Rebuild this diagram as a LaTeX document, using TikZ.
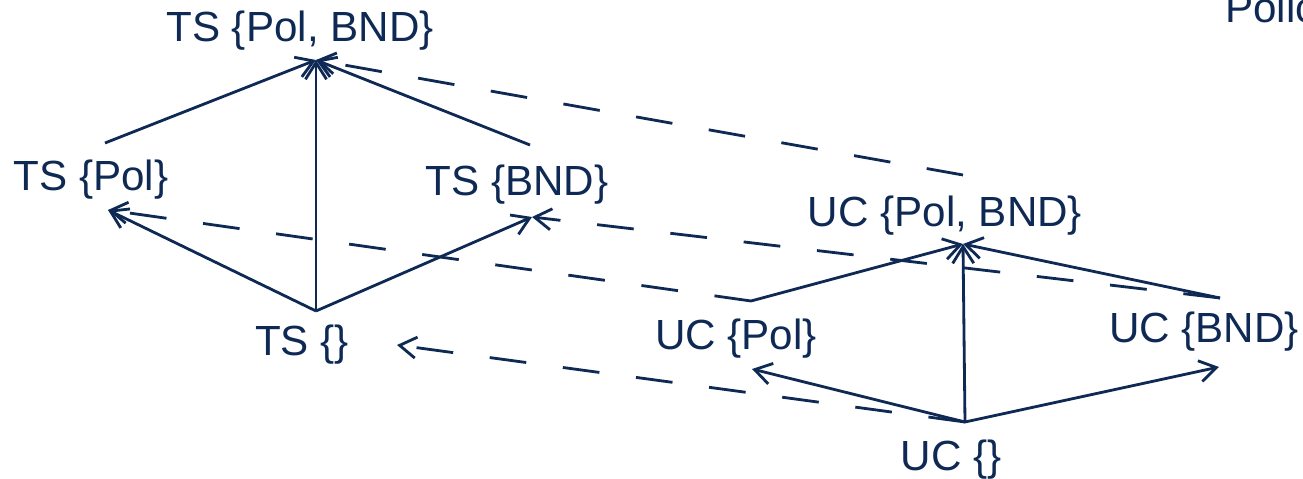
\documentclass[tikz,border=0pt]{standalone}
\usepackage{fontspec}
\setmainfont{Liberation Sans}
\usepackage{tikz}
\usetikzlibrary{arrows.meta}
\definecolor{latnavy}{RGB}{14,41,84}

\begin{document}
\begin{tikzpicture}[
    x=0.02cm, y=-0.02cm,
    lbl/.style={anchor=base, inner sep=0pt, text=latnavy, font=\fontsize{24}{28}\selectfont},
    arrow/.style={-{Straight Barb[length=9.5pt,width=12pt]}, line width=1.6pt, draw=latnavy},
    maparrow/.style={arrow, dash pattern=on 21pt off 21pt}
]
    \useasboundingbox (0,0) rectangle (1303,479);

    % TS lattice
    \node[lbl] (tsPolBnd) at (300,42) {TS \{Pol, BND\}};
    \node[lbl] (tsPol) at (91,191) {TS \{Pol\}};
    \node[lbl] (tsBnd) at (517,196) {TS \{BND\}};
    \node[lbl] (tsEmpty) at (302,356) {TS \{\}};

    % UC lattice
    \node[lbl] (ucPolBnd) at (945,227) {UC \{Pol, BND\}};
    \node[lbl] (ucPol) at (736,350) {UC \{Pol\}};
    \node[lbl] (ucBnd) at (1204,343) {UC \{BND\}};
    \node[lbl] (ucEmpty) at (951,471) {UC \{\}};

    \node[lbl, anchor=base west] (policy) at (1225,23) {Policy};

    % attachment points
    \coordinate (tsTop) at (316,60);
    \coordinate (tsPolIn) at (108,210);
    \coordinate (tsPolOut) at (105,143);
    \coordinate (tsBndIn) at (532,217);
    \coordinate (tsBndOut) at (530,145);
    \coordinate (tsBot) at (316,311);
    \coordinate (tsEmptyIn) at (397,345);

    \coordinate (ucTop) at (963,244);
    \coordinate (ucTopOut) at (963,175);
    \coordinate (ucPolIn) at (752,369);
    \coordinate (ucPolOut) at (751,301);
    \coordinate (ucBndIn) at (1219,367);
    \coordinate (ucBndOut) at (1220,298);
    \coordinate (ucBot) at (965,422);

    \draw[arrow] (tsBot) -- (tsTop);
    \draw[arrow] (tsBot) -- (tsPolIn);
    \draw[arrow] (tsBot) -- (tsBndIn);
    \draw[arrow] (tsPolOut) -- (tsTop);
    \draw[arrow] (tsBndOut) -- (tsTop);

    \draw[arrow] (ucBot) -- (ucTop);
    \draw[arrow] (ucBot) -- (ucPolIn);
    \draw[arrow] (ucBot) -- (ucBndIn);
    \draw[arrow] (ucPolOut) -- (ucTop);
    \draw[arrow] (ucBndOut) -- (ucTop);

    % mapping UC -> TS
    \draw[maparrow] (ucTopOut) -- (tsTop);
    \draw[maparrow] (ucBndOut) -- (tsBndIn);
    \draw[maparrow] (ucPolOut) -- (tsPolIn);
    \draw[maparrow] (ucBot) -- (tsEmptyIn);
\end{tikzpicture}
\end{document}
